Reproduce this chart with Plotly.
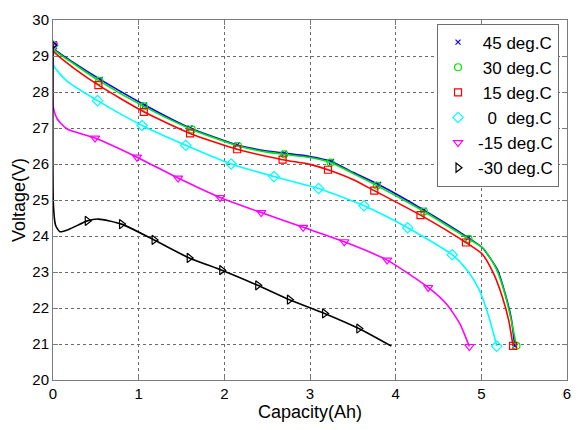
import plotly.graph_objects as go

# Discharge curves: capacity (Ah) vs. battery voltage (V) at six temperatures
labels = ["\u00a045 deg.C", "\u00a030 deg.C", "\u00a015 deg.C", "\u00a0\u00a00\u00a0\u00a0deg.C", "-15 deg.C", "-30 deg.C"]

cap_45 = [0, 0.01, 0.25, 0.55, 1.07, 1.6, 2.15, 2.5, 2.7, 3.0, 3.25, 3.5, 3.8, 4.33, 4.85, 5.01, 5.1, 5.19, 5.28, 5.35, 5.39]
volt_45 = [29.3, 29.2, 28.8, 28.35, 27.64, 27.0, 26.53, 26.36, 26.3, 26.21, 26.07, 25.77, 25.43, 24.72, 23.95, 23.68, 23.4, 23.05, 22.38, 21.7, 20.95]

cap_30 = [0, 0.01, 0.25, 0.54, 1.06, 1.62, 2.16, 2.5, 2.7, 3.0, 3.24, 3.5, 3.78, 4.33, 4.85, 5.01, 5.1, 5.18, 5.28, 5.35, 5.41]
volt_30 = [29.3, 29.18, 28.77, 28.31, 27.6, 26.96, 26.5, 26.33, 26.27, 26.18, 26.04, 25.74, 25.4, 24.68, 23.92, 23.68, 23.4, 23.06, 22.35, 21.65, 20.95]

cap_15 = [0, 0.01, 0.25, 0.53, 1.06, 1.6, 2.15, 2.68, 3.0, 3.21, 3.5, 3.75, 4.29, 4.82, 5.01, 5.14, 5.24, 5.32, 5.37]
volt_15 = [29.3, 29.12, 28.65, 28.19, 27.45, 26.85, 26.41, 26.12, 25.99, 25.84, 25.57, 25.26, 24.58, 23.82, 23.5, 22.97, 22.35, 21.65, 20.95]

cap_0 = [0, 0.005, 0.16, 0.52, 1.04, 1.55, 2.08, 2.58, 3.1, 3.63, 4.14, 4.66, 4.83, 4.97, 5.09, 5.18]
volt_0 = [29.3, 28.75, 28.31, 27.76, 27.07, 26.52, 26.0, 25.65, 25.32, 24.84, 24.23, 23.48, 23.06, 22.53, 21.74, 20.94]

cap_m15 = [0, 0.005, 0.05, 0.16, 0.49, 0.98, 1.46, 1.95, 2.43, 2.92, 3.4, 3.9, 4.38, 4.6, 4.75, 4.86]
volt_m15 = [29.3, 27.56, 27.25, 26.98, 26.72, 26.19, 25.61, 25.07, 24.65, 24.24, 23.84, 23.33, 22.57, 22.09, 21.56, 20.93]

cap_m30 = [0, 0.005, 0.03, 0.08, 0.2, 0.4, 0.53, 0.8, 1.18, 1.59, 1.97, 2.39, 2.76, 3.17, 3.57, 3.95]
volt_m30 = [29.3, 24.85, 24.3, 24.12, 24.2, 24.42, 24.47, 24.33, 23.89, 23.39, 23.05, 22.63, 22.23, 21.85, 21.43, 20.94]

# Marker positions along each curve
mk_cap_45 = [0, 0.55, 1.07, 1.6, 2.15, 2.7, 3.25, 3.8, 4.33, 4.85, 5.39]
mk_volt_45 = [29.3, 28.35, 27.64, 27.0, 26.53, 26.3, 26.07, 25.43, 24.72, 23.95, 20.95]
mk_cap_30 = [0, 0.54, 1.06, 1.62, 2.16, 2.7, 3.24, 3.78, 4.33, 4.85, 5.41]
mk_volt_30 = [29.3, 28.31, 27.6, 26.96, 26.5, 26.27, 26.04, 25.4, 24.68, 23.92, 20.95]
mk_cap_15 = [0, 0.53, 1.06, 1.6, 2.15, 2.68, 3.21, 3.75, 4.29, 4.82, 5.37]
mk_volt_15 = [29.3, 28.19, 27.45, 26.85, 26.41, 26.12, 25.84, 25.26, 24.58, 23.82, 20.95]
mk_cap_0 = [0, 0.52, 1.04, 1.55, 2.08, 2.58, 3.1, 3.63, 4.14, 4.66, 5.18]
mk_volt_0 = [29.3, 27.76, 27.07, 26.52, 26.0, 25.65, 25.32, 24.84, 24.23, 23.48, 20.94]
mk_cap_m15 = [0, 0.49, 0.98, 1.46, 1.95, 2.43, 2.92, 3.4, 3.9, 4.38, 4.86]
mk_volt_m15 = [29.3, 26.72, 26.19, 25.61, 25.07, 24.65, 24.24, 23.84, 23.33, 22.57, 20.93]
mk_cap_m30 = [0, 0.4, 0.8, 1.18, 1.59, 1.97, 2.39, 2.76, 3.17, 3.57]
mk_volt_m30 = [29.3, 24.42, 24.33, 23.89, 23.39, 23.05, 22.63, 22.23, 21.85, 21.43]

x_ticks = [0, 1, 2, 3, 4, 5, 6]
y_ticks = [20, 21, 22, 23, 24, 25, 26, 27, 28, 29, 30]

series = [
    (cap_45, volt_45, mk_cap_45, mk_volt_45, "#0000ff", "x-thin-open", 5),
    (cap_30, volt_30, mk_cap_30, mk_volt_30, "#00e600", "circle-open", 7),
    (cap_15, volt_15, mk_cap_15, mk_volt_15, "#ff0000", "square-open", 7),
    (cap_0, volt_0, mk_cap_0, mk_volt_0, "#00ffff", "diamond-open", 8),
    (cap_m15, volt_m15, mk_cap_m15, mk_volt_m15, "#ff00ff", "triangle-down-open", 8),
    (cap_m30, volt_m30, mk_cap_m30, mk_volt_m30, "#000000", "triangle-right-open", 8),
]

fig = go.Figure()
for (cx, cy, mx, my, color, symbol, size), name in zip(series, labels):
    fig.add_trace(go.Scatter(
        x=cx, y=cy, mode="lines", showlegend=False, hoverinfo="skip",
        line=dict(color=color, width=1.6, shape="spline", smoothing=0.6),
    ))
    fig.add_trace(go.Scatter(
        x=mx, y=my, mode="markers", name=name,
        marker=dict(symbol=symbol, size=size, color=color, line=dict(color=color, width=1.2)),
    ))

axis_common = dict(
    showline=True, linecolor="#7a7a7a", linewidth=1, mirror="ticks",
    ticks="inside", ticklen=5, tickcolor="#7a7a7a",
    showgrid=True, gridcolor="#6a6a6a", griddash="dot", gridwidth=1,
    zeroline=False,
    tickfont=dict(family="Liberation Sans, Arial", size=15, color="#000000"),
)

fig.update_xaxes(
    range=[0, 6], tickvals=x_ticks, ticktext=[str(v) for v in x_ticks],
    title=dict(text="Capacity(Ah)", font=dict(family="Liberation Sans, Arial", size=18, color="#000000"), standoff=4),
    **axis_common,
)
fig.update_yaxes(
    range=[20, 30], tickvals=y_ticks, ticktext=[str(v) for v in y_ticks],
    title=dict(text="Voltage(V)", font=dict(family="Liberation Sans, Arial", size=18, color="#000000"), standoff=2),
    **axis_common,
)

fig.update_layout(
    width=583, height=430,
    margin=dict(l=53, r=16, t=11, b=41),
    plot_bgcolor="#ffffff", paper_bgcolor="#ffffff",
    legend=dict(
        x=0.9845, y=0.99, xanchor="right", yanchor="top",
        bgcolor="#ffffff", bordercolor="#6e6e6e", borderwidth=1,
        font=dict(family="Liberation Sans, Arial", size=17, color="#000000"),
        itemwidth=30, tracegroupgap=0,
    ),
)

fig.write_html("out.html")
